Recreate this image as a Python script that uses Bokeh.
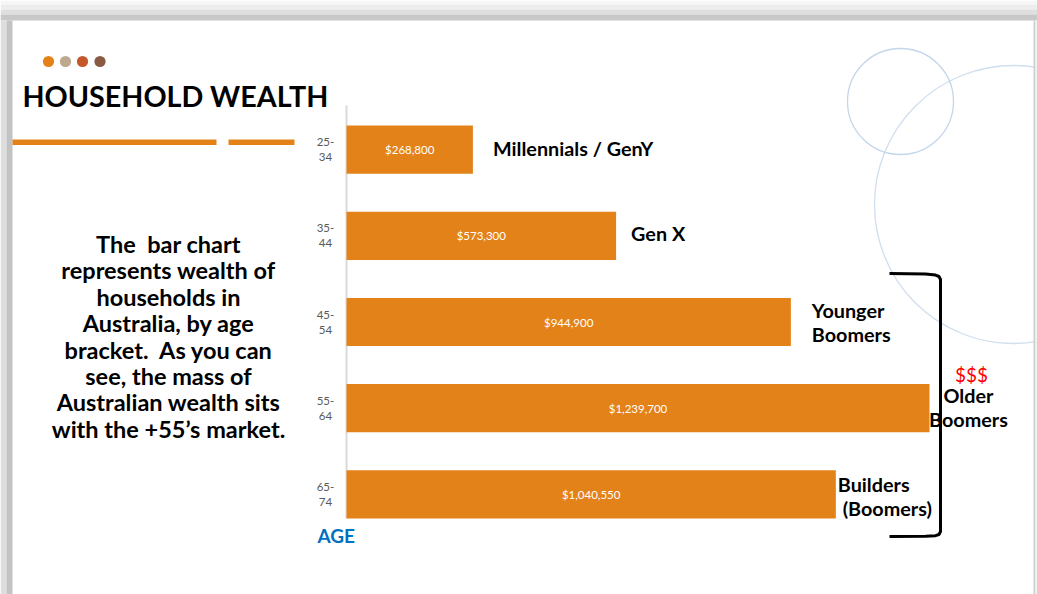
import numpy as np
from bokeh.plotting import figure
from bokeh.models import Range1d
from bokeh.core.properties import value
from bokeh.embed import file_html
from bokeh.resources import INLINE

# ---------------- data ----------------
age_brackets = ["25-34", "35-44", "45-54", "55-64", "65-74"]
wealth = [268800, 573300, 944900, 1239700, 1040550]
wealth_labels = ["$268,800", "$573,300", "$944,900", "$1,239,700", "$1,040,550"]
generations = ["Millennials / GenY", "Gen X", "Younger\nBoomers", "Older\nBoomers", "Builders\n\u00a0(Boomers)"]
title_text = "HOUSEHOLD WEALTH"
body_lines = [
    "The \u00a0bar chart",
    "represents wealth of",
    "households in",
    "Australia, by age",
    "bracket. \u00a0As you can",
    "see, the mass of",
    "Australian wealth sits",
    "with the +55\u2019s market.",
]
axis_title = "AGE"
highlight_text = "$$$"

# ---------------- layout / style ----------------
W, H = 1037, 594
PX0, PY0 = 0, 0              # page offset of the canvas
FONT = value("Lato")
ORANGE = "#E4821A"
DOT_COLORS = ["#E4821A", "#BCAA8E", "#C4582A", "#8A5A44"]
CIRCLE_COLOR = "#C4D6EA"

BAR_X0 = 346                 # page x of value 0
BAR_XMAX = 929               # page x of the largest value
ROW0 = 149.2                 # page y of first row centre
PITCH = 86.15                # page px between rows
BAR_H = 0.56

p = figure(width=W, height=H, output_backend="svg", toolbar_location=None,
           x_range=Range1d(PX0, PX0 + W), y_range=Range1d(PY0 + H, PY0),
           x_axis_type=None, y_axis_type=None, min_border=0,
           background_fill_color="white", border_fill_color="white")
p.outline_line_color = None
p.grid.visible = False

k = (BAR_XMAX - BAR_X0) / max(wealth)
p.extra_x_ranges = {"val": Range1d((PX0 - BAR_X0) / k, (PX0 + W - BAR_X0) / k)}
p.extra_y_ranges = {"row": Range1d((PY0 + H - ROW0) / PITCH, (PY0 - ROW0) / PITCH)}

rows = np.arange(len(age_brackets))
wealth_arr = np.array(wealth, dtype=float)

# slide shadow edges
p.quad(left=[0], right=[W], top=[0], bottom=[4], fill_color="#F6F6F6", line_color=None)
p.quad(left=[0], right=[W], top=[4], bottom=[9], fill_color="#EDEDED", line_color=None)
p.quad(left=[0], right=[W], top=[9], bottom=[14], fill_color="#DFDFDF", line_color=None)
p.quad(left=[0], right=[W], top=[14], bottom=[20], fill_color="#C8C8C8", line_color=None)
p.quad(left=[0], right=[6], top=[20], bottom=[H], fill_color="#DEDEDE", line_color=None)
p.quad(left=[6], right=[12], top=[20], bottom=[H], fill_color="#C3C3C3", line_color=None)

# decorative circles
p.circle(x=[900], y=[101], radius=53, fill_color=None, line_color=CIRCLE_COLOR, line_width=1.3)
p.circle(x=[1013], y=[204], radius=139, fill_color=None, line_color=CIRCLE_COLOR, line_width=1.3, line_alpha=0.8)

# right slide edge
p.quad(left=[1033], right=[1035], top=[20], bottom=[H], fill_color="#CFCFCF", line_color=None)
p.quad(left=[1035], right=[W], top=[20], bottom=[H], fill_color="#F2F2F2", line_color=None)

# dots
p.circle(x=[48, 65, 82, 99.5], y=[61, 61, 61, 61], radius=5.6, fill_color=DOT_COLORS, line_color=None)

# title
p.text(x=[22], y=[95.5], text=[title_text], text_font=FONT, text_font_style="bold",
       text_font_size="28.7px", text_color="black", text_align="left", text_baseline="alphabetic")

# orange rules
p.quad(left=[12, 228], right=[216, 294], top=[139, 139], bottom=[144.5, 144.5],
       fill_color=ORANGE, line_color=None)

# body paragraph
body_y = 243.5 + 26.4 * np.arange(len(body_lines))
p.text(x=[168] * len(body_lines), y=body_y, text=body_lines, text_font=FONT, text_font_style="bold",
       text_font_size="23.5px", text_color="black", text_align="center", text_baseline="alphabetic")

# axis line
p.segment(x0=[0], x1=[0], y0=[105], y1=[518], x_range_name="val",
          line_color="#DADADA", line_width=2)

# bars
p.hbar(y=rows, left=0, right=wealth_arr, height=BAR_H, x_range_name="val", y_range_name="row",
       fill_color=ORANGE, line_color=None)

# value labels
p.text(x=wealth_arr / 2, y=rows, text=wealth_labels, x_range_name="val", y_range_name="row",
       text_font=FONT, text_font_size="11.5px", text_color="white",
       text_align="center", text_baseline="middle")

# tick labels (two lines each)
tick_top = [a.split("-")[0] + "-" for a in age_brackets]
tick_bot = [a.split("-")[1] for a in age_brackets]
for txt, dy in ((tick_top, -7.5), (tick_bot, 7.5)):
    p.text(x=[-21 / k] * len(rows), y=rows, text=txt, x_range_name="val", y_range_name="row",
           y_offset=dy, text_font=FONT, text_font_size="11.5px", text_color="#5A5A5A",
           text_align="center", text_baseline="middle")

# generation labels
gen_dx = [20, 15, 21, 39, 2]
gen_dy = [-1.5, -2.5, -12.5, -13.5, -10.5]
gen_align = ["left", "left", "left", "center", "left"]
LINE_GAP = 24.6
for i, name in enumerate(generations):
    for j, line in enumerate(name.split("\n")):
        p.text(x=[wealth_arr[i]], y=[rows[i]], text=[line], x_range_name="val", y_range_name="row",
               x_offset=gen_dx[i], y_offset=gen_dy[i] + j * LINE_GAP,
               text_font=FONT, text_font_style="bold", text_font_size="19.8px", text_color="black",
               text_align=gen_align[i], text_baseline="alphabetic")

# $$$ highlight
p.text(x=[wealth_arr[3]], y=[rows[3]], text=[highlight_text], x_range_name="val", y_range_name="row",
       x_offset=42, y_offset=-34, text_font=FONT, text_font_size="19px", text_color="#FF0000",
       text_align="center", text_baseline="alphabetic")

# bracket
bx = [889, 925, 935, 938.5, 940, 940, 938.5, 935, 925, 889]
by = [273, 273.6, 274.6, 276, 279, 531, 534, 535.2, 535.8, 536]
p.line(x=bx, y=by, line_color="black", line_width=3)

# axis title
p.text(x=[317], y=[534.5], text=[axis_title], text_font=FONT, text_font_style="bold",
       text_font_size="19px", text_color="#0070C0", text_align="left", text_baseline="alphabetic")

open("out.html", "w").write(file_html(p, INLINE))
